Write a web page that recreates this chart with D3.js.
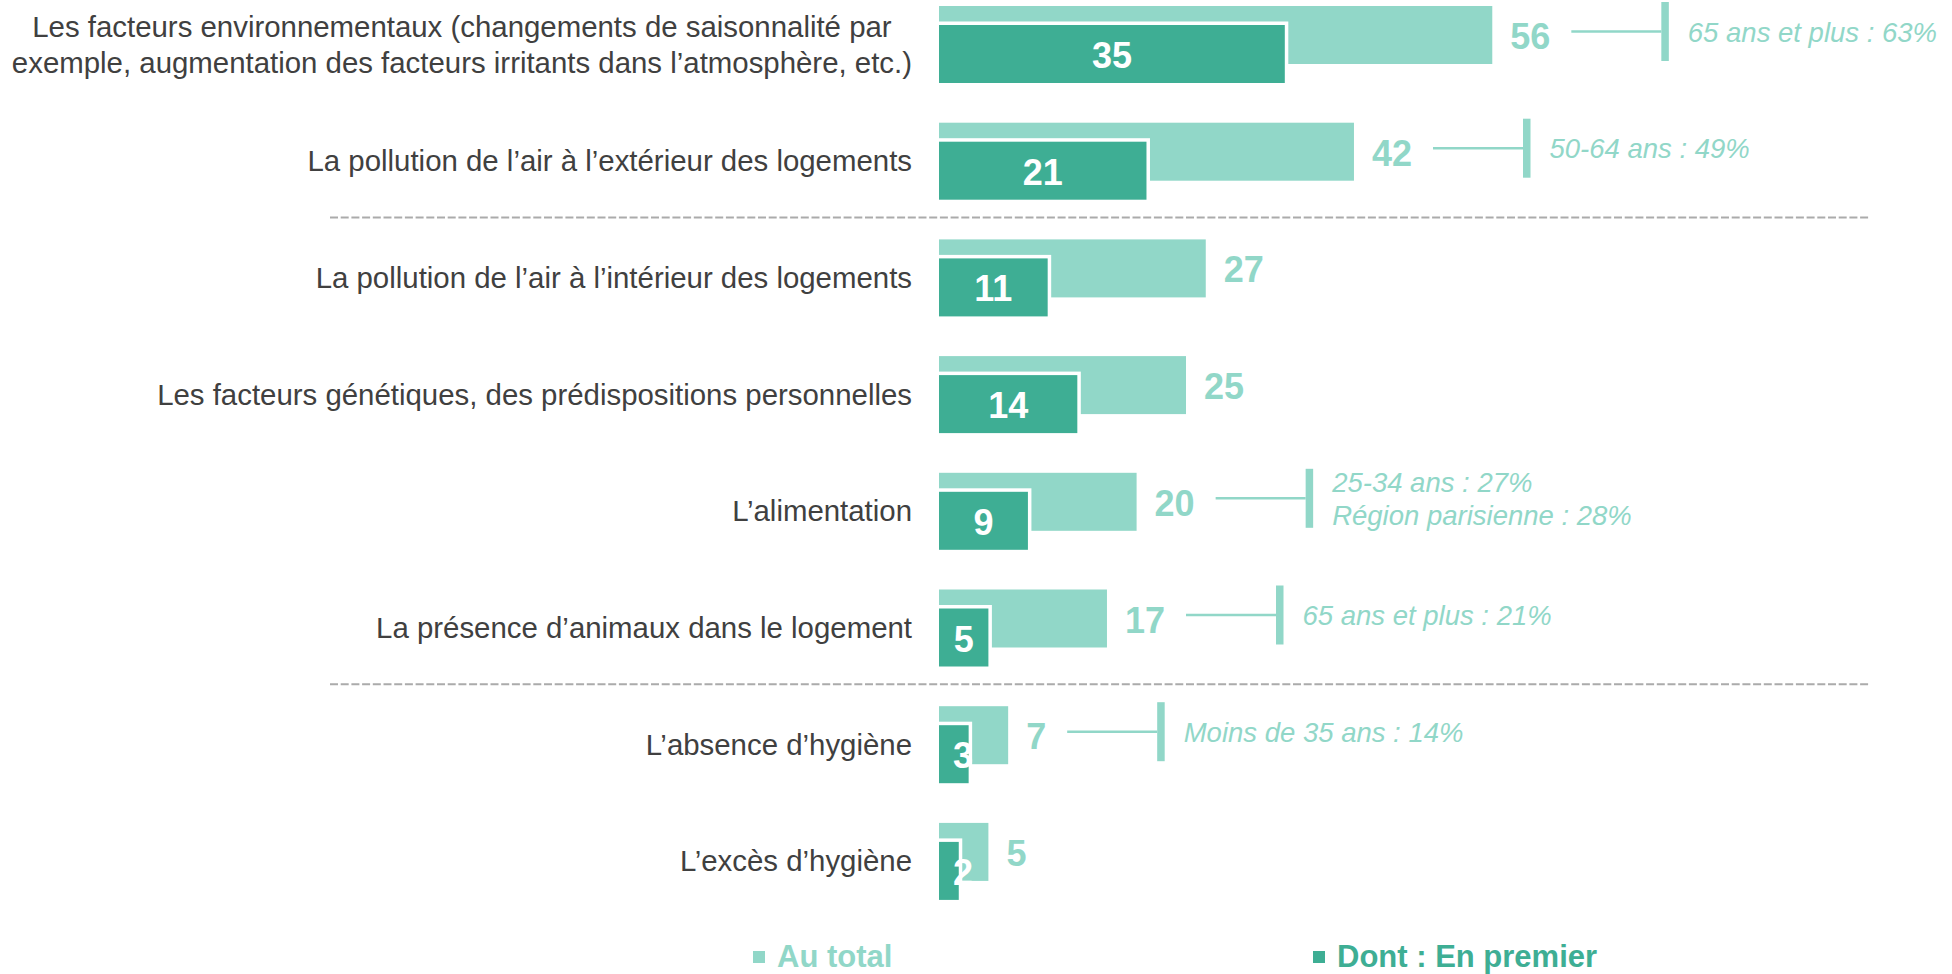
<!DOCTYPE html>
<html>
<head>
<meta charset="utf-8">
<script src="https://cdn.jsdelivr.net/npm/d3@7"></script>
<style>
  html, body { margin: 0; padding: 0; background: #fff; }
  svg { display: block; font-family: "Liberation Sans", Arial, sans-serif; }
</style>
</head>
<body>
<svg id="chart" width="1952" height="974"></svg>
<script>
// ---- Data ----
const categories = [
  ["Les facteurs environnementaux (changements de saisonnalité par", "exemple, augmentation des facteurs irritants dans l’atmosphère, etc.)"],
  ["La pollution de l’air à l’extérieur des logements"],
  ["La pollution de l’air à l’intérieur des logements"],
  ["Les facteurs génétiques, des prédispositions personnelles"],
  ["L’alimentation"],
  ["La présence d’animaux dans le logement"],
  ["L’absence d’hygiène"],
  ["L’excès d’hygiène"]
];
const totalValues = [56, 42, 27, 25, 20, 17, 7, 5];
const firstValues = [35, 21, 11, 14, 9, 5, 3, 2];
const annotations = [
  ["65 ans et plus : 63%"],
  ["50-64 ans : 49%"],
  [],
  [],
  ["25-34 ans : 27%", "Région parisienne : 28%"],
  ["65 ans et plus : 21%"],
  ["Moins de 35 ans : 14%"],
  []
];
const separatorsAfter = [1, 5];
const seriesNames = ["Au total", "Dont : En premier"];

// ---- Style / layout ----
const LIGHT = "#91D7C8";
const DARK = "#3EAE94";
const TEXT = "#404040";

const svg = d3.select("#chart");
const idx = d3.range(categories.length);

const x = d3.scaleLinear().domain([0, 100]).range([939, 939 + 988]);
const y = d3.scaleBand().domain(idx).range([6, 6 + 116.7 * categories.length]).padding(0);
const barH = 58, darkOff = 19, gap = 3.5;

// separators
separatorsAfter.forEach(i => {
  const yy = (y(i) + darkOff + barH + y(i + 1)) / 2 - 2;
  svg.append("line")
    .attr("x1", 330).attr("x2", 1869)
    .attr("y1", yy).attr("y2", yy)
    .attr("stroke", "#ababab").attr("stroke-width", 2)
    .attr("stroke-dasharray", "8,2.7");
});

// light bars (total)
svg.append("g").selectAll("rect").data(idx).join("rect")
  .attr("x", x(0)).attr("y", i => y(i))
  .attr("width", i => x(totalValues[i]) - x(0))
  .attr("height", barH)
  .attr("fill", LIGHT);

// white outline behind dark bars
svg.append("g").selectAll("rect").data(idx).join("rect")
  .attr("x", x(0)).attr("y", i => y(i) + darkOff - gap)
  .attr("width", i => x(firstValues[i]) - x(0) + gap)
  .attr("height", barH + gap)
  .attr("fill", "#fff");

// dark bars (first)
svg.append("g").selectAll("rect").data(idx).join("rect")
  .attr("x", x(0)).attr("y", i => y(i) + darkOff)
  .attr("width", i => x(firstValues[i]) - x(0))
  .attr("height", barH)
  .attr("fill", DARK);

// dark labels
svg.append("g").selectAll("text").data(idx).join("text")
  .attr("x", i => Math.max((x(0) + x(firstValues[i])) / 2, x(0) + 24))
  .attr("y", i => y(i) + darkOff + barH / 2 + 14)
  .attr("text-anchor", "middle")
  .attr("font-size", 36).attr("font-weight", "bold")
  .attr("fill", "#fff")
  .text(i => firstValues[i]);

// total labels
const totLabels = svg.append("g").selectAll("text").data(idx).join("text")
  .attr("x", i => x(totalValues[i]) + 18)
  .attr("y", i => y(i) + barH / 2 + 14)
  .attr("font-size", 36).attr("font-weight", "bold")
  .attr("fill", LIGHT)
  .text(i => totalValues[i]);

// annotations
totLabels.each(function(i) {
  const lines = annotations[i];
  if (!lines.length) return;
  const bb = this.getBBox();
  const ly = y(i) + barH / 2 - 3.5;
  const x1 = bb.x + bb.width + 21;
  const x2 = x1 + 90;
  svg.append("line")
    .attr("x1", x1).attr("x2", x2).attr("y1", ly).attr("y2", ly)
    .attr("stroke", LIGHT).attr("stroke-width", 2.5);
  svg.append("rect")
    .attr("x", x2).attr("y", ly - 29.5).attr("width", 7.5).attr("height", 59)
    .attr("fill", LIGHT);
  const t = svg.append("text")
    .attr("font-size", 27.5).attr("font-style", "italic").attr("fill", LIGHT);
  const lh = 32.6;
  lines.forEach((s, k) => {
    t.append("tspan")
      .attr("x", x2 + 7.5 + 19)
      .attr("y", ly + 10 - (lines.length - 1) * lh / 2 + k * lh)
      .text(s);
  });
});

// category labels
const labelRight = x(0) - 27;
idx.forEach(i => {
  const lines = categories[i];
  const cy = y(i) + (darkOff + barH) / 2;
  const lh = 36;
  const g = svg.append("g");
  const texts = lines.map((s, k) => g.append("text")
    .attr("y", cy + 10 - (lines.length - 1) * lh / 2 + k * lh)
    .attr("font-size", 29.4).attr("fill", TEXT)
    .text(s));
  if (lines.length === 1) {
    texts[0].attr("x", labelRight).attr("text-anchor", "end");
  } else {
    const maxW = d3.max(texts, t => t.node().getComputedTextLength());
    texts.forEach(t => t.attr("x", labelRight - maxW / 2).attr("text-anchor", "middle"));
  }
});

// legend
const legendX = [753, 1313];
const legendColors = [LIGHT, DARK];
seriesNames.forEach((name, k) => {
  svg.append("rect")
    .attr("x", legendX[k]).attr("y", 951).attr("width", 12).attr("height", 12)
    .attr("fill", legendColors[k]);
  svg.append("text")
    .attr("x", legendX[k] + 24).attr("y", 967)
    .attr("font-size", 31).attr("font-weight", "bold")
    .attr("fill", legendColors[k])
    .text(name);
});
</script>
</body>
</html>
